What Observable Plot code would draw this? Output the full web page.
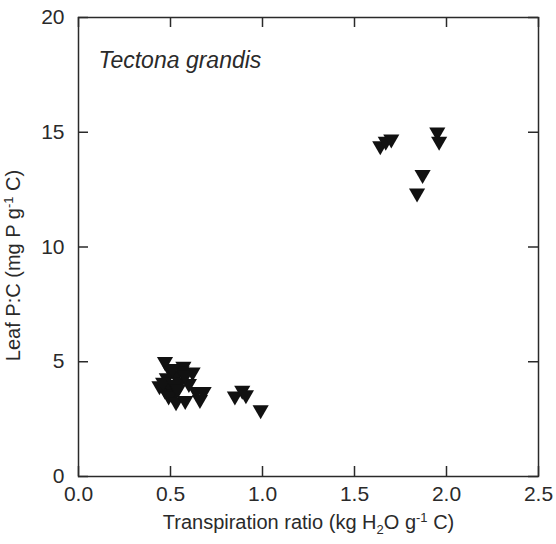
<!DOCTYPE html>
<html>
<head>
<meta charset="utf-8">
<script src="https://cdn.jsdelivr.net/npm/d3@7"></script>
<script src="https://cdn.jsdelivr.net/npm/@observablehq/plot@0.6"></script>
<style>
  html, body { margin: 0; padding: 0; background: #fff; }
  #chart { width: 556px; height: 544px; }
</style>
</head>
<body>
<div id="chart"></div>
<script>
// ---- data ----
const transpiration = [
  0.47, 0.57, 0.62, 0.50, 0.53, 0.48, 0.44, 0.47, 0.50, 0.55,
  0.52, 0.49, 0.53, 0.58, 0.64, 0.68, 0.66, 0.56, 0.60, 0.46,
  0.52, 0.54, 0.51, 0.58,
  0.85, 0.89, 0.91, 0.99,
  1.64, 1.67, 1.70, 1.95, 1.96, 1.87, 1.84
];
const leafPC = [
  5.0, 4.8, 4.55, 4.6, 4.4, 4.3, 3.95, 3.75, 3.9, 4.1,
  3.6, 3.5, 3.25, 3.3, 3.7, 3.7, 3.35, 4.6, 4.05, 4.1,
  4.0, 3.8, 4.7, 4.4,
  3.5, 3.75, 3.55, 2.9,
  14.4, 14.6, 14.7, 15.0, 14.6, 13.15, 12.35
];
const xTicks = [0, 0.5, 1.0, 1.5, 2.0, 2.5];
const yTicks = [0, 5, 10, 15, 20];
const speciesLabel = "Tectona grandis";
const xLabelParts = [["Transpiration ratio (kg H", ""], ["2", "sub"], ["O g", ""], ["-1", "sup"], [" C)", ""]];
const yLabelParts = [["Leaf P:C (mg P g", ""], ["-1", "sup"], [" C)", ""]];

const points = transpiration.map((x, i) => ({x, y: leafPC[i]}));
const plain = parts => parts.map(p => p[0]).join("");

const W = 556, H = 544;
const mL = 78, mR = 18, mT = 17, mB = 68;
const innerW = W - mL - mR, innerH = H - mT - mB;
const tickLen = 10;
const ink = "#2a2a2a";

const chart = Plot.plot({
  width: W,
  height: H,
  marginLeft: mL,
  marginRight: mR,
  marginTop: mT,
  marginBottom: mB,
  style: {fontFamily: "'Liberation Sans', Arial, sans-serif", fontSize: "21px", color: ink, background: "#fff"},
  x: {domain: [0, 2.5]},
  y: {domain: [0, 20]},
  marks: [
    Plot.axisX({ticks: xTicks, tickSize: 0, tickPadding: 10, tickFormat: d3.format(".1f"), label: null, fontSize: 21}),
    Plot.axisY({ticks: yTicks, tickSize: 0, tickPadding: 14, label: null, fontSize: 21}),
    // inward ticks on all four sides
    Plot.tickX(xTicks, {x: d => d, insetTop: innerH - tickLen, stroke: ink, strokeWidth: 1.5}),
    Plot.tickX(xTicks, {x: d => d, insetBottom: innerH - tickLen, stroke: ink, strokeWidth: 1.5}),
    Plot.tickY(yTicks, {y: d => d, insetRight: innerW - tickLen, stroke: ink, strokeWidth: 1.5}),
    Plot.tickY(yTicks, {y: d => d, insetLeft: innerW - tickLen, stroke: ink, strokeWidth: 1.5}),
    Plot.frame({stroke: ink, strokeWidth: 1.5}),
    Plot.dot(points, {x: "x", y: "y", symbol: "triangle", rotate: 180, r: 6, fill: "#111", stroke: "none"}),
    Plot.text([speciesLabel], {frameAnchor: "top-left", dx: 20, dy: 43, textAnchor: "start", lineAnchor: "middle", fontSize: 23, fontStyle: "italic", fill: ink}),
    Plot.text([plain(xLabelParts)], {frameAnchor: "bottom", dy: 46, textAnchor: "middle", lineAnchor: "middle", fontSize: 20, fill: ink}),
    Plot.text([plain(yLabelParts)], {frameAnchor: "left", textAnchor: "middle", lineAnchor: "middle", fontSize: 20, fill: ink})
  ]
});

// turn the axis titles into rich text with sub/superscripts
function richify(svg, parts, transform) {
  const full = plain(parts);
  const NS = "http://www.w3.org/2000/svg";
  svg.querySelectorAll("text").forEach(t => {
    if (t.textContent === full) {
      while (t.firstChild) t.removeChild(t.firstChild);
      if (transform) {
        t.setAttribute("transform", transform);
        t.removeAttribute("x");
        t.removeAttribute("y");
        t.setAttribute("dy", "0.32em");
        t.setAttribute("text-anchor", "middle");
        if (t.parentNode && t.parentNode.removeAttribute) t.parentNode.removeAttribute("transform");
      }
      let shift = 0;
      parts.forEach(([s, kind]) => {
        const ts = document.createElementNS(NS, "tspan");
        ts.textContent = s;
        const want = kind === "sub" ? 5 : kind === "sup" ? -7 : 0;
        ts.setAttribute("dy", String(want - shift));
        if (kind) ts.setAttribute("font-size", "13");
        shift = want;
        t.appendChild(ts);
      });
    }
  });
}
richify(chart, xLabelParts);
richify(chart, yLabelParts, `translate(20,${mT + innerH / 2 + 19}) rotate(-90)`);

document.getElementById("chart").appendChild(chart);
</script>
</body>
</html>
